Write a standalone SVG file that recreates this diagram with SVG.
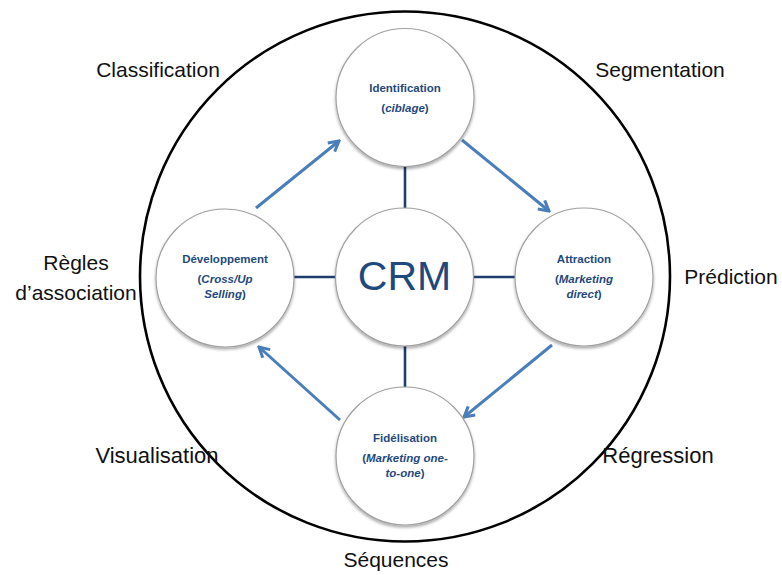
<svg xmlns="http://www.w3.org/2000/svg" width="782" height="575" viewBox="0 0 782 575">
<style>
.lbl{font-family:"Liberation Sans",Arial,sans-serif;font-size:21px;fill:#111;text-anchor:middle}
.nt{font-family:"Liberation Sans",Arial,sans-serif;font-size:11.5px;font-weight:bold;fill:#1F497D;text-anchor:middle}
.it{font-style:italic}
.node{fill:#fff;stroke:#a0a0a0;stroke-width:1.2;filter:url(#sh)}
.link{stroke:#1F3D6E;stroke-width:2.6;fill:none}
.arr{stroke:#4A7EBB;stroke-width:3;fill:none;marker-end:url(#ah)}
</style>
<defs>
<filter id="sh" x="-20%" y="-20%" width="140%" height="150%">
<feDropShadow dx="0" dy="2" stdDeviation="1.8" flood-color="#000" flood-opacity="0.35"/>
</filter>
<marker id="ah" viewBox="0 0 14 14" refX="12" refY="7" markerWidth="14" markerHeight="14" markerUnits="userSpaceOnUse" orient="auto">
<path d="M2,1.5 L12,7 L2,12.5" fill="none" stroke="#4A7EBB" stroke-width="3" stroke-linejoin="miter"/>
</marker>
</defs>
<rect width="782" height="575" fill="#fff"/>
<circle cx="405" cy="276.5" r="265" fill="none" stroke="#000" stroke-width="2.6"/>
<g id="connectors">
<line class="link" x1="405" y1="166" x2="405" y2="208"/>
<line class="link" x1="294" y1="277" x2="336" y2="277"/>
<line class="link" x1="474" y1="277" x2="515" y2="277"/>
<line class="link" x1="405" y1="346" x2="405" y2="387"/>
<line class="arr" x1="256" y1="208" x2="339" y2="141"/>
<line class="arr" x1="462" y1="140" x2="549" y2="211"/>
<line class="arr" x1="552" y1="345" x2="464" y2="417"/>
<line class="arr" x1="340" y1="420" x2="259" y2="347"/>
</g>
<g id="identification">
<circle class="node" cx="405" cy="97.5" r="69"/>
<text class="nt" x="405" y="92">Identification</text>
<text class="nt" x="405" y="112">(<tspan class="it">ciblage</tspan>)</text>
</g>
<g id="developpement">
<circle class="node" cx="225" cy="278" r="69"/>
<text class="nt" x="225" y="263">Développement</text>
<text class="nt" x="225" y="283">(<tspan class="it">Cross/Up</tspan></text>
<text class="nt" x="225" y="297.5"><tspan class="it">Selling</tspan>)</text>
</g>
<g id="crm">
<circle class="node" cx="404.5" cy="277" r="69"/>
<text x="404.5" y="290" style="font-family:'Liberation Sans',Arial,sans-serif;font-size:41px;fill:#1F497D;text-anchor:middle">CRM</text>
</g>
<g id="attraction">
<circle class="node" cx="584" cy="277" r="69"/>
<text class="nt" x="584" y="263">Attraction</text>
<text class="nt" x="584" y="283">(<tspan class="it">Marketing</tspan></text>
<text class="nt" x="584" y="297.5"><tspan class="it">direct</tspan>)</text>
</g>
<g id="fidelisation">
<circle class="node" cx="405" cy="456" r="69"/>
<text class="nt" x="405" y="442">Fidélisation</text>
<text class="nt" x="405" y="462">(<tspan class="it">Marketing one-</tspan></text>
<text class="nt" x="405" y="476.5"><tspan class="it">to-one</tspan>)</text>
</g>
<g id="labels">
<text class="lbl" x="158" y="77">Classification</text>
<text class="lbl" x="660" y="77">Segmentation</text>
<text class="lbl" x="76" y="270">Règles</text>
<text class="lbl" x="76" y="300">d’association</text>
<text class="lbl" x="731" y="284">Prédiction</text>
<text class="lbl" x="157" y="463" style="font-size:22px">Visualisation</text>
<text class="lbl" x="658" y="463" style="font-size:22px">Régression</text>
<text class="lbl" x="396" y="567">Séquences</text>
</g>
</svg>
